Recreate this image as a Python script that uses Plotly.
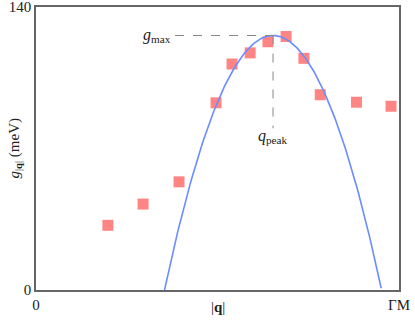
import plotly.graph_objects as go
import numpy as np

# data
q_points = [0.198, 0.295, 0.394, 0.496, 0.540, 0.590, 0.639, 0.689, 0.738, 0.783, 0.883, 0.978]
g_points = [32.0, 42.5, 53.5, 92.6, 111.8, 117.3, 122.8, 125.4, 114.6, 96.6, 92.9, 90.9]

# parabola model parameters
g_max = 125.9
q_peak = 0.653
q_root_left = 0.353
q_root_right = 0.951

x_ticks = [0, 1]
x_ticktext = ["0", "ΓM"]
y_ticks = [0, 140]
y_ticktext = ["0", "140"]

half = (q_root_right - q_root_left) / 2
qc = np.linspace(q_root_left, q_root_right, 200)
gc = g_max * (1 - ((qc - q_peak) / half) ** 2)

FONT = "'Liberation Serif', 'DejaVu Serif', serif"
TXT = "#222222"
fig = go.Figure()
fig.add_trace(go.Scatter(x=q_points, y=g_points, mode="markers",
                         marker=dict(symbol="square", size=11, color="#ff8585", line=dict(width=0)),
                         showlegend=False, hoverinfo="skip"))
fig.add_trace(go.Scatter(x=qc, y=gc, mode="lines",
                         line=dict(color="#6a8cff", width=1.6), showlegend=False, hoverinfo="skip"))
# dashed guides
fig.add_shape(type="line", x0=0.383, x1=q_peak, y0=g_max, y1=g_max,
              line=dict(color="#888888", width=1, dash="dash"))
fig.add_shape(type="line", x0=q_peak, x1=q_peak, y0=g_max, y1=80,
              line=dict(color="#888888", width=1, dash="dash"))
fig.add_annotation(x=0.377, y=g_max, text="<i>g</i><sub>max</sub>", showarrow=False,
                   xanchor="right", yanchor="middle", font=dict(family=FONT, size=16, color=TXT))
fig.add_annotation(x=q_peak, y=81.5, text="<i>q</i><sub>peak</sub>", showarrow=False,
                   xanchor="center", yanchor="top", font=dict(family=FONT, size=16, color=TXT))
# axis titles
fig.add_annotation(xref="paper", yref="paper", x=0.5, y=0, yshift=-17, text="|<b>q</b>|",
                   showarrow=False, xanchor="center", yanchor="middle",
                   font=dict(family=FONT, size=15, color=TXT))
fig.add_annotation(xref="paper", yref="paper", x=0, y=0.5, xshift=-22, text="<i>g</i><sub>|<b>q</b>|</sub> (meV)",
                   showarrow=False, xanchor="center", yanchor="middle", textangle=-90,
                   font=dict(family=FONT, size=15, color=TXT))

fig.update_layout(
    width=415, height=323,
    margin=dict(l=36, r=16, t=7, b=33, autoexpand=False),
    plot_bgcolor="white", paper_bgcolor="white",
    font=dict(family=FONT, size=15, color=TXT),
    xaxis=dict(range=[0, 1], tickvals=x_ticks, ticktext=x_ticktext, showgrid=False, zeroline=False,
               showline=True, mirror=True, linecolor="#666", linewidth=1.5, ticks="", automargin=False,
               ticklabeloverflow="allow"),
    yaxis=dict(range=[0, 140], tickvals=y_ticks, ticktext=y_ticktext, showgrid=False, zeroline=False,
               showline=True, mirror=True, linecolor="#666", linewidth=1.5, ticks="", automargin=False,
               ticklabeloverflow="allow"),
)
fig.write_html("out.html", config={"displayModeBar": False},
               post_script="document.body.style.margin='0';document.body.style.overflow='hidden';")
